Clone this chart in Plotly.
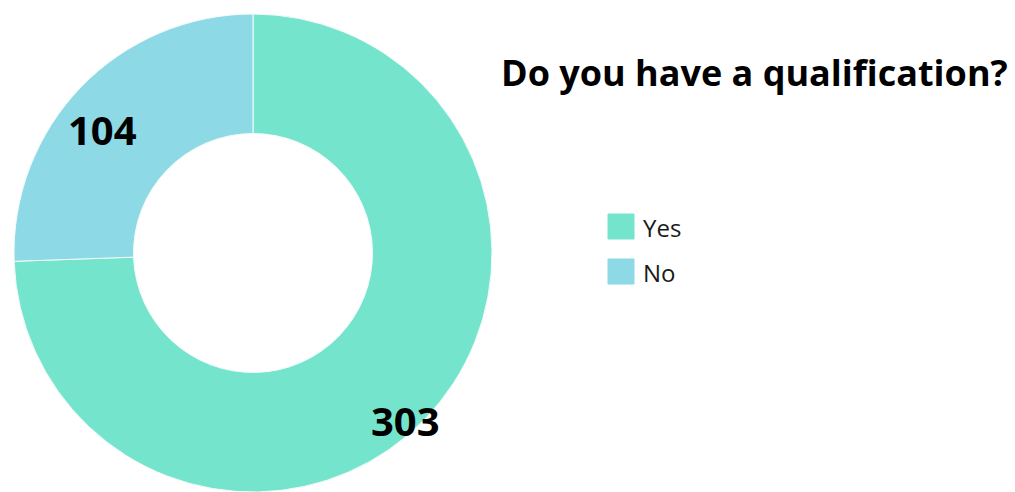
import plotly.graph_objects as go

# Survey answers
labels = ["Yes", "No"]
values = [303, 104]
colors = ["#75E4CC", "#8DD9E5"]
title_text = "Do you have a qualification?"

W, H = 1015, 492


def px(x):
    return x / W


def py(y):
    return 1 - y / H


fig = go.Figure()
fig.add_trace(go.Pie(
    labels=labels,
    values=values,
    hole=0.5,
    sort=False,
    direction="clockwise",
    rotation=0,
    marker=dict(colors=colors, line=dict(color="#F4FBFA", width=1)),
    textinfo="none",
    hoverinfo="label+value",
    showlegend=False,
    domain=dict(x=[px(14), px(492)], y=[0, py(14)]),
))

# Value labels on the ring
label_pos = {"No": (102, 130), "Yes": (405, 420)}
annotations = []
for lab, val in zip(labels, values):
    x, y = label_pos[lab]
    annotations.append(dict(
        x=px(x), y=py(y), xref="paper", yref="paper",
        text=f"<b>{val}</b>", showarrow=False,
        font=dict(family="Open Sans", size=40, color="#000000"),
        xanchor="center", yanchor="middle",
    ))

# Title
annotations.append(dict(
    x=px(754), y=py(72), xref="paper", yref="paper",
    text=f"<b>{title_text}</b>", showarrow=False,
    font=dict(family="Open Sans", size=36, color="#000000"),
    xanchor="center", yanchor="middle",
))

# Legend with large swatches
shapes = []
for i, (lab, col) in enumerate(zip(labels, colors)):
    top = 214 + i * 45
    shapes.append(dict(
        type="rect", xref="paper", yref="paper",
        x0=px(608), x1=px(634), y0=py(top + 25), y1=py(top),
        fillcolor=col, line=dict(color=col, width=1),
    ))
    annotations.append(dict(
        x=px(641), y=py(top + 13), xref="paper", yref="paper",
        text=lab, showarrow=False,
        font=dict(family="Open Sans", size=24, color="#1a1a1a"),
        xanchor="left", yanchor="middle",
    ))

fig.update_layout(
    width=W, height=H, autosize=False,
    margin=dict(l=0, r=0, t=0, b=0),
    paper_bgcolor="#FFFFFF", plot_bgcolor="#FFFFFF",
    annotations=annotations, shapes=shapes,
)

fig.write_html("out.html")
